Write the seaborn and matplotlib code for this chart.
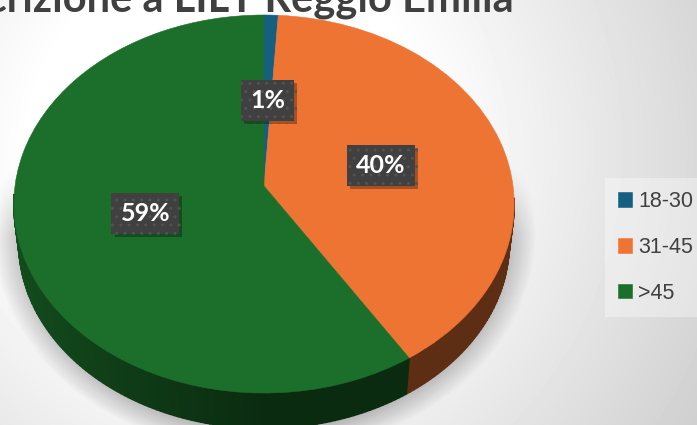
import numpy as np
import seaborn as sns
import matplotlib.pyplot as plt
import matplotlib.patheffects as pe
from matplotlib.colors import to_rgb
from matplotlib.transforms import Transform

labels = ["18-30", "31-45", ">45"]
values = [1, 40, 59]
colors = ["#156082", "#EE7433", "#1C6F2A"]
title = "Iscrizione a LILT Reggio Emilia"

W, H = 697, 425
APEX = (264, 186)

sns.set_theme(style="white")
plt.rcParams["font.family"] = ["Liberation Sans", "DejaVu Sans"]


# pie tilted in perspective: unit circle -> pixels of the picture
class Tilt(Transform):
    input_dims = 2
    output_dims = 2
    has_inverse = False
    is_separable = False

    def transform_non_affine(self, xy):
        xy = np.asarray(xy, dtype=float)
        d = 1 + 0.0953 * xy[:, 1]
        return np.column_stack([APEX[0] + 249 * xy[:, 0] / d, APEX[1] - 187.3 * xy[:, 1] / d])


tilt = Tilt()

fig = plt.figure(figsize=(W / 100, H / 100), dpi=100)
ax = fig.add_axes([0, 0, 1, 1])

wedges, _, pct = ax.pie(values, colors=colors, startangle=90, counterclock=False,
                        autopct="%.0f%%", pctdistance=0.49, labels=None,
                        textprops=dict(color="white", fontsize=18, fontweight="bold", family="Lato"))

for w in wedges:
    w.set_transform(tilt + ax.transData)
    w.set_edgecolor(w.get_facecolor())
    w.set_linewidth(0.4)
    w.set_zorder(3)

# background and the soft shadow under the pie
yy, xx = np.mgrid[0:H, 0:W]
r = np.hypot(xx - 230, yy - 150)
bg = 255 - np.clip((r - 200) / 300, 0, None) * 42
ax.imshow(bg, cmap="gray", vmin=0, vmax=255, extent=(0, W, H, 0), aspect="auto", zorder=0)

e = np.hypot((xx - 264) / 272, (yy - 232) / 222)
sh = np.clip((1 - e) / 0.16, 0, 1) * np.clip((yy - 165) / 70, 0, 1) * 0.36
rgba = np.zeros((H, W, 4))
rgba[..., 3] = sh
ax.imshow(rgba, extent=(0, W, H, 0), aspect="auto", zorder=1)
ax.set_aspect("auto")
ax.set_xlim(0, W)
ax.set_ylim(H, 0)
ax.axis("off")

# side of the pie, only the front part shows, darker to the right
start = 0
for v, c in zip(values, colors):
    end = start + v * 3.6
    for a in np.arange(start, end, 1.0):
        th = np.radians([a, min(a + 1, end)])
        if np.cos(th[0]) > -0.05:
            continue
        top = tilt.transform_non_affine(np.column_stack([np.sin(th), np.cos(th)]))
        low = np.column_stack([APEX[0] + (top[:, 0] - APEX[0]) * 0.98,
                               APEX[1] + (top[:, 1] - APEX[1]) * 0.98 + 39.4])
        poly = np.vstack([top, low[::-1]])
        f = 0.39 + max(0, -np.sin(th[0])) * 0.3
        col = tuple(np.array(to_rgb(c)) * f)
        ax.fill(poly[:, 0], poly[:, 1], color=col, lw=1.2, zorder=2)
    start = end

for t in pct:
    t.set_transform(tilt + ax.transData)
    t.set_zorder(5)
    t.set_va("center_baseline")
    t.set_bbox(dict(boxstyle="square,pad=0.36", fc="#404040", ec="#525252", lw=0, hatch=".."))
    t.get_bbox_patch().set_path_effects([pe.SimplePatchShadow(offset=(2.2, -2.2), alpha=0.3, shadow_rgbFace="black"), pe.Normal()])

ax.text(514, 11, title, ha="right", va="baseline", fontsize=30, fontweight="bold",
        family="Lato", color="#404040", zorder=6)

leg = ax.legend(wedges, labels, loc="upper left", bbox_to_anchor=(605 / W, 1 - 178 / H), borderaxespad=0,
                fontsize=15.5, frameon=True, fancybox=False, framealpha=0.35, facecolor="white", edgecolor="none",
                handlelength=0.65, handleheight=0.65, handletextpad=0.3, labelspacing=1.16, borderpad=0.6,
                labelcolor="#404040")
leg.set_zorder(6)

fig.savefig("out.png", dpi=100)
